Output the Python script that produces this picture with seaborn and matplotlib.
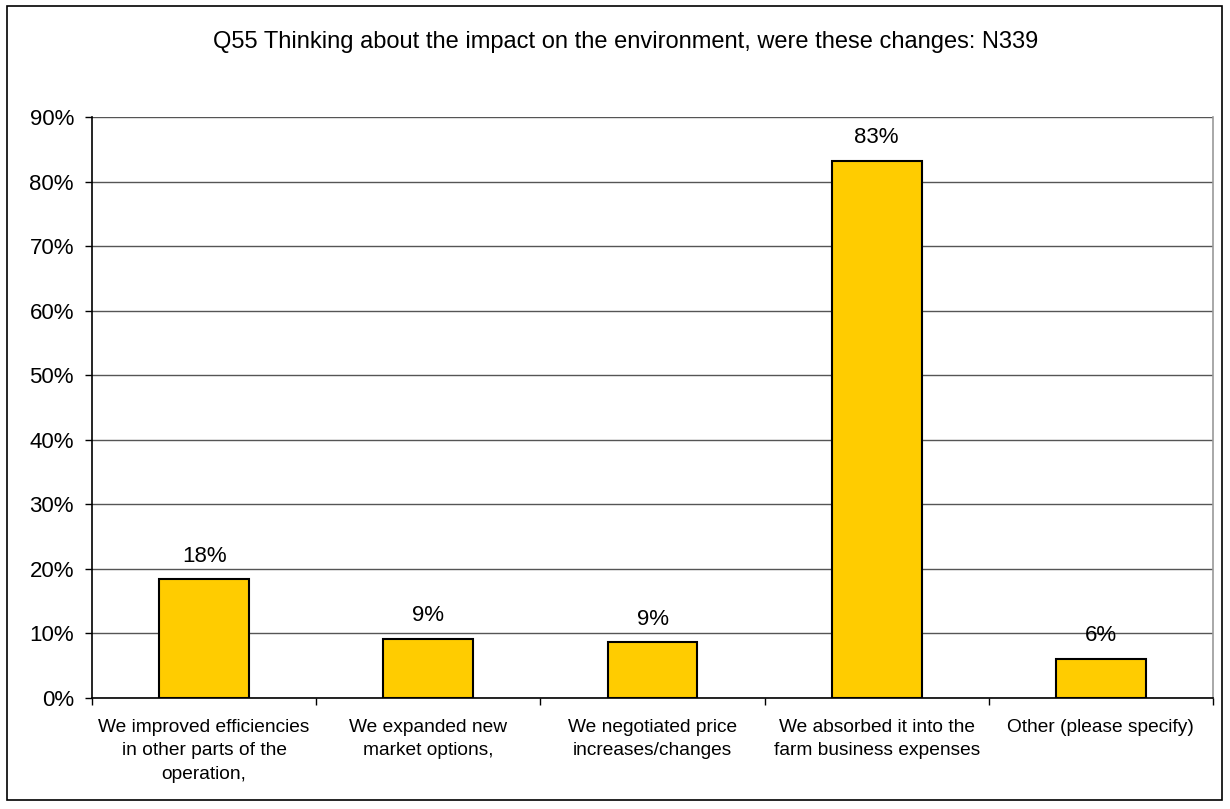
import matplotlib
matplotlib.use("Agg")
import matplotlib.pyplot as plt
import matplotlib.patches as mpatches
from matplotlib.ticker import FuncFormatter, FixedLocator
import seaborn as sns
import pandas as pd

categories = [
    "We improved efficiencies\nin other parts of the\noperation,",
    "We expanded new\nmarket options,",
    "We negotiated price\nincreases/changes",
    "We absorbed it into the\nfarm business expenses",
    "Other (please specify)",
]
values = [18.4, 9.2, 8.6, 83.2, 6.1]
value_labels = ["18%", "9%", "9%", "83%", "6%"]
yticks = [0, 10, 20, 30, 40, 50, 60, 70, 80, 90]
title = "Q55 Thinking about the impact on the environment, were these changes: N339"

sns.set_theme(style="white")
plt.rcParams['font.family'] = ['Liberation Sans', 'DejaVu Sans']
plt.rcParams['text.color'] = 'black'
plt.rcParams['xtick.color'] = 'black'
plt.rcParams['ytick.color'] = 'black'
plt.rcParams['xtick.labelcolor'] = 'black'
plt.rcParams['ytick.labelcolor'] = 'black'

df = pd.DataFrame({"cat": categories, "val": values})

fig = plt.figure(figsize=(12.3, 8.09), dpi=100)
ax = fig.add_axes([92/1230, 1-698/809, (1213-92)/1230, (698-117)/809])

sns.barplot(data=df, x="cat", y="val", color="#FFCC00", edgecolor="black",
            linewidth=1.5, width=0.4, saturation=1, ax=ax, zorder=3)

ax.set_ylim(0, 90)
ax.set_xlim(-0.5, len(categories) - 0.5)
ax.set_yticks(yticks)
ax.yaxis.set_major_formatter(FuncFormatter(lambda v, p: f"{int(v)}%"))
ax.yaxis.grid(True, color="#555555", linewidth=1)
ax.set_axisbelow(True)
ax.set_xlabel("")
ax.set_ylabel("")

# x ticks at category boundaries
ax.set_xticks(range(len(categories)))
ax.set_xticklabels(categories, fontsize=13.8, linespacing=1.5)
ax.tick_params(axis="x", length=0, pad=15)
ax.xaxis.set_minor_locator(FixedLocator([i - 0.5 for i in range(len(categories) + 1)]))
ax.tick_params(axis="x", which="minor", bottom=True, length=5, width=1, color="black", direction="out")
ax.tick_params(axis="y", left=True, length=5, width=1, color="black", direction="out",
               labelsize=16, pad=8)

ax.spines["top"].set_visible(False)
ax.spines["left"].set_color("black")
ax.spines["bottom"].set_color("black")
ax.spines["right"].set_color("#999999")
for s in ax.spines.values():
    s.set_linewidth(1.2)

for i, (v, lab) in enumerate(zip(values, value_labels)):
    ax.annotate(lab, (i, v), xytext=(0, 9), textcoords="offset points",
                ha="center", va="bottom", fontsize=16, zorder=4)

fig.text(626/1230, 1-42/809, title, ha="center", va="center", fontsize=17)

fig.patches.append(mpatches.Rectangle((7/1230, 1-800/809), (1222-7)/1230, (800-6)/809,
                                      transform=fig.transFigure, fill=False,
                                      edgecolor="black", linewidth=1.2))

fig.savefig("out.png", dpi=100)
